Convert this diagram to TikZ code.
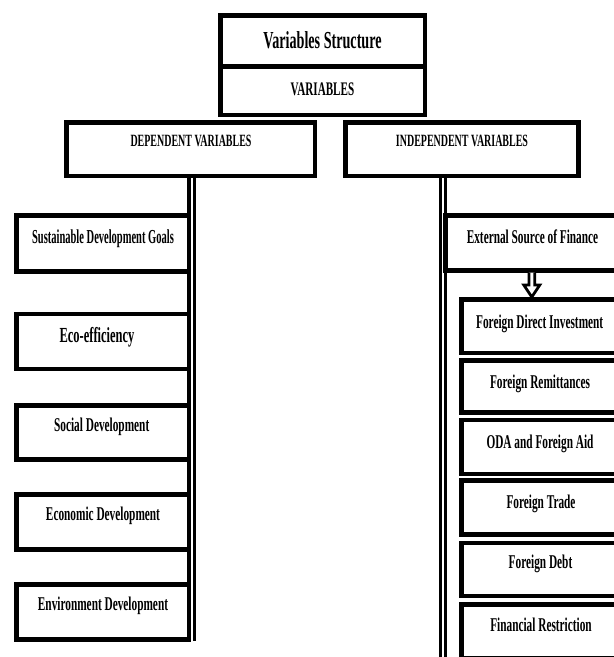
\documentclass[tikz,border=0pt]{standalone}
\usepackage{fontspec}
\usetikzlibrary{fit,calc}
\newfontfamily\cf[FakeStretch=0.58]{Liberation Serif}
\newfontfamily\cfn[FakeStretch=0.53]{Liberation Serif}
\newcommand\myfs[1]{\cf\bfseries\fontsize{#1}{#1}\selectfont}
\begin{document}
\begin{tikzpicture}[x=1pt,y=-1pt,
  box/.style={draw=black, line width=4.5pt, fill=white, inner sep=0pt, outer sep=0pt, rectangle},
  lbl/.style={anchor=base, inner sep=0pt, font=\myfs{19.5}},
  dline/.style={draw=black, line width=4pt},
  tline/.style={draw=black, line width=3pt},
  arrowbox/.style={draw=black, line width=2.8pt, fill=white, line join=miter}
]
\useasboundingbox (0,0) rectangle (614,657);
\clip (0,0) rectangle (614,657);
\fill[white] (0,0) rectangle (614,657);

% top
\node[box, fit={(220.25,15.25) (424.75,66.5)}] (title) {};
\node[box, fit={(220.25,66.5) (424.75,114.75)}] (vars) {};
\node[box, fit={(66.25,122.25) (314.75,175.75)}] (dep) {};
\node[box, fit={(345.5,122.25) (578.5,175.75)}] (indep) {};

% left column
\node[box, fit={(16.5,215.5) (189,271.5)}] (sdg) {};
\node[box, fit={(16.5,314) (189,369)}] (eco) {};
\node[box, fit={(16.5,405.5) (189,459.5)}] (soc) {};
\node[box, fit={(16.5,494.5) (189,549.5)}] (ecn) {};
\node[box, fit={(16.5,584.5) (189,639.5)}] (env) {};

% right column
\node[box, fit={(445.5,215.5) (625,270.5)}] (ext) {};
\node[box, fit={(461.5,299.5) (625,353)}] (fdi) {};
\node[box, fit={(461.5,360.5) (625,412.5)}] (rem) {};
\node[box, fit={(461.5,420) (625,474)}] (oda) {};
\node[box, fit={(461.5,480.5) (625,534.5)}] (trd) {};
\node[box, fit={(461.5,543) (625,596)}] (dbt) {};
\node[box, fit={(461.5,604.5) (625,658)}] (fin) {};

% double connectors
\draw[dline] (sdg.north east |- dep.south) -- (env.south east);
\draw[tline] ($(sdg.north east |- dep.south)+(5.2,0)$) -- ($(env.south east)+(5.2,1.5)$);
\draw[tline] (ext.north west |- indep.south) -- (ext.north west |- fin.south);
\draw[tline] ($(ext.north west |- indep.south)+(-5,0)$) -- ($(ext.north west |- fin.south)+(-5,0)$);

% hollow arrow
\coordinate (a0) at (531.8,0);
\path (a0 |- ext.south) coordinate (as) (a0 |- fdi.north) coordinate (ae);
\draw[arrowbox] ($(as)+(-2.9,2)$) -- ($(as)+(-2.9,14.5)$) -- ($(as)+(-8,14.5)$)
  -- ($(ae)+(0,-2.5)$) -- ($(as)+(8,14.5)$) -- ($(as)+(2.9,14.5)$) -- ($(as)+(2.9,2)$);

% labels
\node[lbl, font=\myfs{24.4}] (tt) at (322.5,48.5) {Variables Structure};
\node[lbl, font=\myfs{19.2}] (tv) at (322.5,95) {VARIABLES};
\node[lbl, font=\myfs{17.2}] (td) at (191,146) {DEPENDENT VARIABLES};
\node[lbl, font=\myfs{17.2}] (ti) at (462,146.5) {INDEPENDENT VARIABLES};

\node[lbl, font={\cfn\bfseries\fontsize{19.8}{19.8}\selectfont}] (t1) at (103,243.3) {Sustainable Development Goals};
\node[lbl, font=\myfs{21.5}] (t2) at (97,342) {Eco-efficiency};
\node[lbl] (t3) at (101.7,431.7) {Social Development};
\node[lbl] (t4) at (103,520) {Economic Development};
\node[lbl] (t5) at (103,610) {Environment Development};

\node[lbl] (r0) at (532.5,243.3) {External Source of Finance};
\node[lbl] (r1) at (539.7,328.3) {Foreign Direct Investment};
\node[lbl] (r2) at (540,388.3) {Foreign Remittances};
\node[lbl] (r3) at (540,448.3) {ODA and Foreign Aid};
\node[lbl] (r4) at (541,508.3) {Foreign Trade};
\node[lbl] (r5) at (540.5,568.3) {Foreign Debt};
\node[lbl] (r6) at (541,631.7) {Financial Restriction};
\end{tikzpicture}
\end{document}
